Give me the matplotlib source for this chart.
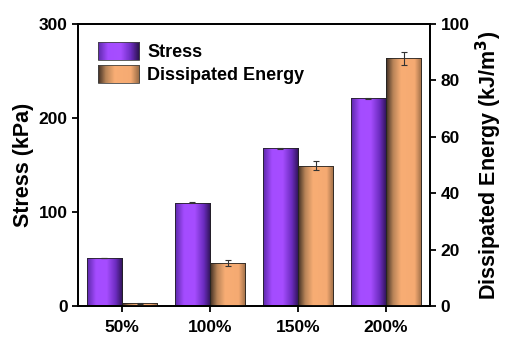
import numpy as np
import matplotlib
matplotlib.use("Agg")
import matplotlib.pyplot as plt
from matplotlib.colors import LinearSegmentedColormap
from matplotlib.patches import Rectangle
from matplotlib.legend_handler import HandlerBase

plt.rcParams['font.family'] = ['Liberation Sans', 'DejaVu Sans']
plt.rcParams['font.weight'] = 'bold'

strains = ["50%", "100%", "150%", "200%"]
stress = [51, 110, 168, 221]
stress_err = [0.4, 0.6, 0.6, 0.5]
energy = [0.9, 15.3, 49.8, 87.8]
energy_err = [0.2, 1.0, 1.6, 2.3]

purple_cmap = LinearSegmentedColormap.from_list(
    "purple_shade",
    [(0.0, "#5a28a8"), (0.25, "#a44cff"), (0.55, "#a64dff"),
     (0.8, "#6c2cc0"), (1.0, "#2c1250")])
orange_cmap = LinearSegmentedColormap.from_list(
    "orange_shade",
    [(0.0, "#3c2c22"), (0.2, "#b88458"), (0.42, "#f8ad74"),
     (0.8, "#f5aa72"), (1.0, "#9a6c46")])

fig = plt.figure(figsize=(5.05, 3.4), dpi=100)
ax = fig.add_axes([0.1545, 0.1, 0.697, 0.8294])
ax2 = ax.twinx()

x = np.arange(1, len(strains) + 1)
w = 0.4
grad = np.linspace(0, 1, 256).reshape(1, -1)


def shade_bars(axis, bars, cmap):
    for b in bars:
        x0, y0 = b.get_x(), b.get_y()
        bw, bh = b.get_width(), b.get_height()
        im = axis.imshow(grad, cmap=cmap, aspect="auto",
                         extent=(x0, x0 + bw, y0, y0 + bh),
                         zorder=b.get_zorder() - 0.1, interpolation="bilinear")
        im.set_clip_path(b)
        b.set_facecolor("none")


b1 = ax.bar(x - w / 2, stress, w, yerr=stress_err, edgecolor="#222222",
            linewidth=0.6, zorder=2,
            error_kw=dict(ecolor="#333333", elinewidth=0.8, capsize=2.5, capthick=0.8))
shade_bars(ax, b1, purple_cmap)

b2 = ax2.bar(x + w / 2, energy, w, yerr=energy_err, edgecolor="#222222",
             linewidth=0.6, zorder=2,
             error_kw=dict(ecolor="#333333", elinewidth=0.8, capsize=2.5, capthick=0.8))
shade_bars(ax2, b2, orange_cmap)

ax.set_xlim(0.5, 4.5)
ax.set_ylim(0, 300)
ax2.set_ylim(0, 100)
ax.set_xticks(x)
ax.set_xticklabels(strains)
ax.set_yticks([0, 100, 200, 300])
ax2.set_yticks([0, 20, 40, 60, 80, 100])

for a in (ax, ax2):
    for s in a.spines.values():
        s.set_linewidth(1.3)
    a.tick_params(width=1.3, length=4, labelsize=12.5, direction="out")
ax.tick_params(axis="x", pad=6)

ax.set_ylabel("Stress (kPa)", fontsize=15.5, fontweight="bold", labelpad=3)
ax2.set_ylabel("Dissipated Energy (kJ/m$^\\mathbf{3}$)", fontsize=15.5,
               fontweight="bold", labelpad=3)


class GradientHandler(HandlerBase):
    def __init__(self, cmap):
        super().__init__()
        self.cmap = cmap

    def create_artists(self, legend, orig_handle, xdescent, ydescent,
                       width, height, fontsize, trans):
        n = 40
        arts = []
        for i in range(n):
            r = Rectangle((-xdescent + width * i / n, -ydescent), width / n + 0.3,
                          height, facecolor=self.cmap((i + 0.5) / n),
                          edgecolor="none", transform=trans)
            arts.append(r)
        frame = Rectangle((-xdescent, -ydescent), width, height, facecolor="none",
                          edgecolor="#444444", linewidth=0.6, transform=trans)
        arts.append(frame)
        return arts


h1 = Rectangle((0, 0), 1, 1)
h2 = Rectangle((0, 0), 1, 1)
ax.legend([h1, h2], ["Stress", "Dissipated Energy"],
          handler_map={h1: GradientHandler(purple_cmap), h2: GradientHandler(orange_cmap)},
          loc="upper left", bbox_to_anchor=(0.02, 0.98), frameon=False,
          prop=dict(size=13, weight="bold"), handlelength=2.3, handleheight=1.15,
          handletextpad=0.45, labelspacing=0.2, borderaxespad=0.3)

fig.savefig("out.png", dpi=100)
